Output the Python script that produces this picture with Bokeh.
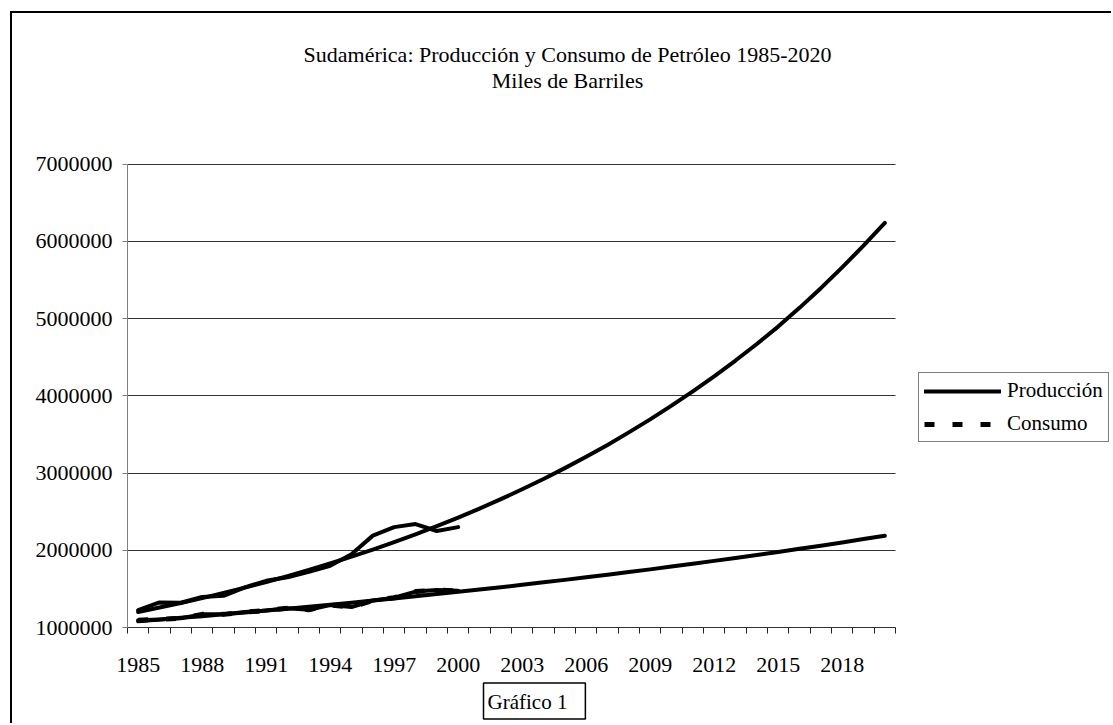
from bokeh.plotting import figure
from bokeh.models import (ColumnDataSource, FixedTicker, BasicTickFormatter, Legend,
                          LegendItem, Title, Label, Range1d, Grid)
from bokeh.embed import file_html
from bokeh.resources import INLINE

# ---- data ----
years = list(range(1985, 2021))
hist_years = list(range(1985, 2001))
produccion = [1225000, 1325000, 1320000, 1395000, 1410000, 1520000, 1605000, 1650000,
              1720000, 1800000, 1950000, 2190000, 2300000, 2340000, 2250000, 2300000]
consumo = [1095000, 1105000, 1120000, 1170000, 1170000, 1200000, 1220000, 1250000,
           1230000, 1290000, 1265000, 1350000, 1385000, 1465000, 1485000, 1475000]
tend_produccion = [1200000, 1258000, 1318000, 1381000, 1447000, 1517000, 1589000, 1666000,
                   1746000, 1829000, 1917000, 2009000, 2106000, 2207000, 2313000, 2424000,
                   2540000, 2662000, 2790000, 2924000, 3064000, 3211000, 3365000, 3527000,
                   3696000, 3873000, 4059000, 4254000, 4458000, 4672000, 4897000, 5140000,
                   5395000, 5665000, 5945000, 6240000]
tend_consumo = [1080000, 1102000, 1125000, 1147000, 1171000, 1195000, 1219000, 1244000,
                1269000, 1295000, 1322000, 1349000, 1376000, 1404000, 1433000, 1462000,
                1492000, 1522000, 1553000, 1585000, 1617000, 1650000, 1684000, 1718000,
                1753000, 1789000, 1825000, 1863000, 1901000, 1939000, 1979000, 2019000,
                2060000, 2102000, 2145000, 2189000]
x_tick_labels = [1985, 1988, 1991, 1994, 1997, 2000, 2003, 2006, 2009, 2012, 2015, 2018]
y_ticks = [1000000, 2000000, 3000000, 4000000, 5000000, 6000000, 7000000]
titulo1 = "Sudamérica: Producción y Consumo de Petróleo 1985-2020"
titulo2 = "Miles de Barriles"
nota = "Gráfico 1"

FONT = "Liberation Serif"

# ---- layout geometry (pixels) ----
OX, OY = 12, 13                     # canvas offset caused by the outer border (CSS)
W, H = 1113 - OX, 725 - OY          # canvas size
PL, PT, PR, PB = 127, 164, 895, 628  # plot area in page pixels
B_LEFT = PL - OX
B_BOTTOM = 725 - PB
frame_w = W - B_LEFT                # frame extends to the right edge of the canvas
frame_h = H - B_BOTTOM              # and to the top edge of the canvas

x0, x1 = years[0] - 0.5, years[-1] + 0.5
y0, y1 = y_ticks[0], y_ticks[-1]
x_end = x0 + (x1 - x0) * frame_w / (PR - PL)
y_end = y0 + (y1 - y0) * frame_h / (PB - PT)

hist = ColumnDataSource(dict(x=hist_years, prod=produccion, cons=consumo))
trend = ColumnDataSource(dict(x=years, prod=tend_produccion, cons=tend_consumo))

p = figure(width=W, height=H, output_backend="svg", toolbar_location=None,
           x_range=Range1d(x0, x_end), y_range=Range1d(y0, y_end),
           min_border_left=B_LEFT, min_border_right=0, min_border_top=0,
           min_border_bottom=B_BOTTOM)
p.styles = {"margin-left": "10px", "margin-top": "11px",
            "border-left": "2px solid black", "border-top": "2px solid black"}
p.outline_line_color = None
p.background_fill_color = "white"
p.border_fill_color = "white"

# axes
p.xaxis.bounds = (x0, x1)
p.xaxis.ticker = FixedTicker(ticks=x_tick_labels,
                             minor_ticks=[y - 0.5 for y in years] + [x1])
p.xaxis.major_tick_out = 0
p.xaxis.major_tick_in = 0
p.xaxis.minor_tick_out = 6
p.xaxis.minor_tick_in = 0
p.xaxis.minor_tick_line_color = "#222222"
p.xaxis.axis_line_color = "#333333"
p.xaxis.major_label_standoff = 24
p.xaxis.major_label_text_font = FONT
p.xaxis.major_label_text_font_size = "22px"
p.xaxis.major_label_text_color = "black"

p.yaxis.bounds = (y0, y1)
p.yaxis.ticker = FixedTicker(ticks=y_ticks)
p.yaxis.formatter = BasicTickFormatter(use_scientific=False)
p.yaxis.major_tick_out = 5
p.yaxis.major_tick_in = 0
p.yaxis.minor_tick_line_color = None
p.yaxis.axis_line_color = "#808080"
p.yaxis.major_tick_line_color = "#808080"
p.yaxis.major_label_standoff = 10
p.yaxis.major_label_text_font = FONT
p.yaxis.major_label_text_font_size = "22px"
p.yaxis.major_label_text_color = "black"

p.xgrid.visible = False
if "cross_bounds" in Grid.properties():
    p.ygrid.ticker = FixedTicker(ticks=y_ticks)
    p.ygrid.cross_bounds = (x0, x1)
    p.ygrid.grid_line_color = "#333333"
    p.ygrid.grid_line_width = 1
else:
    p.ygrid.visible = False
    p.segment(x0=[x0] * len(y_ticks), x1=[x1] * len(y_ticks), y0=y_ticks, y1=y_ticks,
              line_color="#333333", line_width=1)

# lines
r_cd = p.line("x", "cons", source=hist, line_color="black", line_width=5,
              line_dash="10 18")
r_tp = p.line("x", "prod", source=trend, line_color="black", line_width=4,
              line_cap="round", line_join="round")
r_tc = p.line("x", "cons", source=trend, line_color="black", line_width=4,
              line_cap="round", line_join="round")
r_p = p.line("x", "prod", source=hist, line_color="black", line_width=4,
             line_cap="round", line_join="round")
r_c = p.line("x", "cons", source=hist, line_color="black", line_width=4,
             line_cap="round", line_join="round")

legend = Legend(items=[LegendItem(label="Producción", renderers=[r_p]),
                       LegendItem(label="Consumo", renderers=[r_cd])],
                location=(918 - PL, PB - 443), orientation="vertical",
                glyph_width=77, glyph_height=20, label_height=20, spacing=8,
                padding=5, margin=0, label_standoff=6,
                border_line_color="black", border_line_width=1,
                label_text_font=FONT, label_text_font_size="21px",
                label_text_color="black",
                background_fill_color="white", background_fill_alpha=1)
p.add_layout(legend, "center")

# titles (screen units are measured from the frame's bottom-left corner)
p.add_layout(Label(x=567 - PL, y=PB - 55, x_units="screen", y_units="screen",
                   text=titulo1, text_align="center", text_baseline="middle",
                   text_font=FONT, text_font_size="22px", text_color="black"))
p.add_layout(Label(x=567 - PL, y=PB - 81, x_units="screen", y_units="screen",
                   text=titulo2, text_align="center", text_baseline="middle",
                   text_font=FONT, text_font_size="22px", text_color="black"))

# "Gráfico 1" box
p.add_layout(Title(text=nota, align="left", offset=483 - PL, standoff=13,
                   text_font=FONT, text_font_size="21px", text_font_style="normal",
                   text_color="black", border_line_color="black", border_line_width=1.5,
                   padding=dict(left=4, right=18, top=7, bottom=5)), "below")

open("out.html", "w").write(file_html(p, INLINE))
